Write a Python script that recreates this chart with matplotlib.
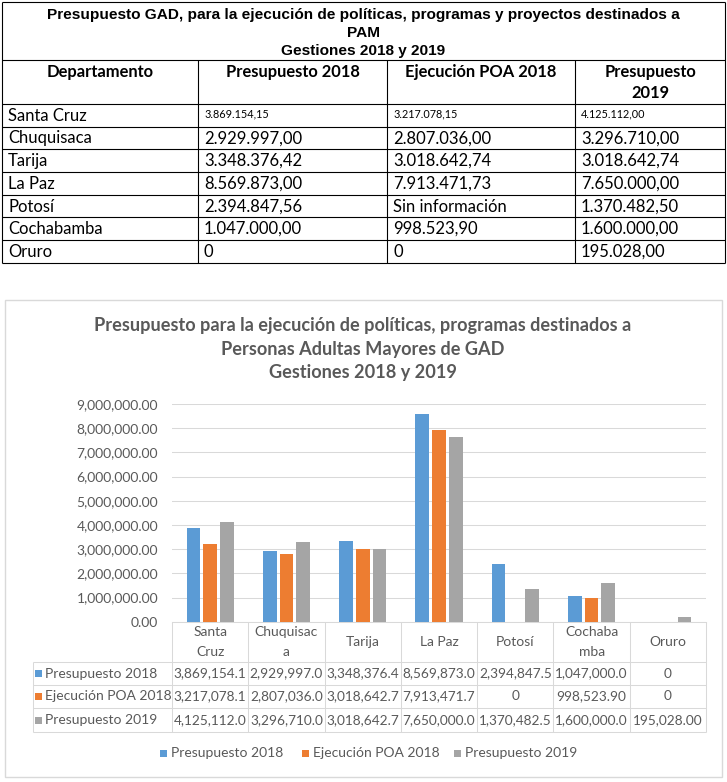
import numpy as np
import matplotlib
matplotlib.use("Agg")
import matplotlib.pyplot as plt
from matplotlib.lines import Line2D
from matplotlib.patches import Rectangle
import matplotlib.transforms as mtransforms
from matplotlib.ticker import FuncFormatter

# ---------------- data ----------------
departamentos = ["Santa Cruz", "Chuquisaca", "Tarija", "La Paz", "Potosí", "Cochabamba", "Oruro"]
cat_labels = ["Santa\nCruz", "Chuquisac\na", "Tarija", "La Paz", "Potosí", "Cochaba\nmba", "Oruro"]
presupuesto_2018 = [3869154.15, 2929997.00, 3348376.42, 8569873.00, 2394847.56, 1047000.00, 0]
ejecucion_poa_2018 = [3217078.15, 2807036.00, 3018642.74, 7913471.73, None, 998523.90, 0]
presupuesto_2019 = [4125112.00, 3296710.00, 3018642.74, 7650000.00, 1370482.50, 1600000.00, 195028.00]
series_names = ["Presupuesto 2018", "Ejecución POA 2018", "Presupuesto 2019"]
table_title = ["Presupuesto GAD, para la ejecución de políticas, programas y proyectos destinados a",
               "PAM", "Gestiones 2018 y 2019"]
table_headers = ["Departamento", "Presupuesto 2018", "Ejecución POA 2018", "Presupuesto\n2019"]
chart_title = ["Presupuesto para la ejecución de políticas, programas destinados a",
               "Personas Adultas Mayores de GAD", "Gestiones 2018 y 2019"]
yticks = [0, 1000000, 2000000, 3000000, 4000000, 5000000, 6000000, 7000000, 8000000, 9000000]
no_info = "Sin información"

colors = ["#5b9bd5", "#ed7d31", "#a5a5a5"]
TXT = "#595959"
GRID = "#d9d9d9"
BODY = ["Lato", "DejaVu Sans"]
ARIAL = ["Liberation Sans", "DejaVu Sans"]

W, H = 727, 782
fig = plt.figure(figsize=(W / 100, H / 100), dpi=100)


def X(px):
    return px / W


def Y(py):
    return 1 - py / H


def line(x0, x1, y0, y1, color="black", lw=0.8, trans=None):
    fig.add_artist(Line2D([x0, x1], [y0, y1], transform=trans or fig.transFigure,
                          color=color, lw=lw, solid_capstyle="butt"))


def es_fmt(v):
    if v is None:
        return no_info
    if v == 0:
        return "0"
    return f"{v:,.2f}".replace(",", "X").replace(".", ",").replace("X", ".")


# ---------------- top table ----------------
cols = [2, 198, 387, 575, 725]
rows = [2, 60, 104, 127, 149, 172, 195, 217, 240, 263]
for r in rows:
    line(X(cols[0]), X(cols[-1]), Y(r), Y(r))
line(X(cols[0]), X(cols[0]), Y(rows[0]), Y(rows[-1]))
line(X(cols[-1]), X(cols[-1]), Y(rows[0]), Y(rows[-1]))
for c in cols[1:-1]:
    line(X(c), X(c), Y(rows[1]), Y(rows[-1]))

for k, t in enumerate(table_title):
    fig.text(X(363.5), Y([15, 33, 51.5][k]), t, ha="center", va="center",
             family=ARIAL, fontweight="bold", fontsize=11.1, color="black")

for j, h in enumerate(table_headers):
    cx = (cols[j] + cols[j + 1]) / 2
    for k, part in enumerate(h.split("\n")):
        fig.text(X(cx), Y(72 + 21 * k), part, ha="center", va="center",
                 family=BODY, fontweight="bold", fontsize=11.9, color="black")

for i, dep in enumerate(departamentos):
    cy = (rows[2 + i] + rows[3 + i]) / 2
    vals = [dep, es_fmt(presupuesto_2018[i]), es_fmt(ejecucion_poa_2018[i]),
            es_fmt(presupuesto_2019[i])]
    for j, v in enumerate(vals):
        small = (i == 0 and j > 0)
        fig.text(X(cols[j] + 6), Y(cy + (-2 if small else 0.5)), v, ha="left", va="center",
                 family=["Liberation Sans Narrow"] + BODY if small else BODY,
                 fontsize=7.8 if small else 12, color="black")

# ---------------- chart ----------------
fig.add_artist(Rectangle((X(5), Y(777)), X(722) - X(5), (777 - 300) / H,
                         transform=fig.transFigure, facecolor="none",
                         edgecolor=GRID, lw=1.0, zorder=-1))

for k, t in enumerate(chart_title):
    fig.text(X(363), Y([325, 349.5, 372.5][k]), t, ha="center", va="center",
             family=BODY, fontweight="bold", fontsize=13.1, color=TXT)

y0_px, y9_px = 621.7, 403.9
ax = fig.add_axes([X(172), Y(y0_px), X(706) - X(172), (y0_px - y9_px) / H])
ax.patch.set_alpha(0)
xs = np.arange(len(departamentos))
chart_series = [presupuesto_2018,
                [0 if v is None else v for v in ejecucion_poa_2018],
                presupuesto_2019]
bw = 0.18
offs = [-0.219, 0.0, 0.219]
for s, vals in enumerate(chart_series):
    ax.bar(xs + offs[s], vals, width=bw, color=colors[s], zorder=3)

ax.set_xlim(-0.5, len(departamentos) - 0.5)
ax.set_ylim(0, 9000000)
ax.set_yticks(yticks)
ax.yaxis.set_major_formatter(FuncFormatter(lambda v, p: f"{v:,.2f}"))
ax.grid(axis="y", color=GRID, lw=0.75, zorder=0)
ax.set_xticks([])
for sp in ["top", "right", "left"]:
    ax.spines[sp].set_visible(False)
ax.spines["bottom"].set_color(GRID)
ax.spines["bottom"].set_linewidth(0.75)
ax.tick_params(axis="y", length=0, pad=10, labelsize=10, labelcolor=TXT)
for lab in ax.get_yticklabels():
    lab.set_family(BODY)

# ---------------- data table under the chart ----------------
trans = mtransforms.blended_transform_factory(ax.transData, fig.transFigure)
t_rows = [621.7, 662, 685, 708, 732]
for b in np.arange(len(departamentos) + 1) - 0.5:
    line(b, b, Y(t_rows[0]), Y(t_rows[-1]), color=GRID, lw=0.75, trans=trans)
line(X(33), X(33), Y(t_rows[1]), Y(t_rows[-1]), color=GRID, lw=0.75)
for r in t_rows[1:]:
    line(X(33), X(706), Y(r), Y(r), color=GRID, lw=0.75)

for i, lab in enumerate(cat_labels):
    parts = lab.split("\n")
    n = len(parts)
    for k, part in enumerate(parts):
        yy = 642 + (k - (n - 1) / 2) * 19
        fig.text(xs[i], Y(yy), part, transform=trans, ha="center", va="center",
                 family=BODY, fontsize=10, color=TXT)


def tbl_fmt(v):
    if v == 0:
        return "0"
    return f"{v:,.2f}"[:11]


for s, vals in enumerate(chart_series):
    cy = (t_rows[1 + s] + t_rows[2 + s]) / 2
    fig.add_artist(Rectangle((X(35), Y(cy + 3.5)), 7 / W, 7 / H, transform=fig.transFigure,
                             facecolor=colors[s], edgecolor="none"))
    fig.text(X(45), Y(cy), series_names[s], ha="left", va="center",
             family=BODY, fontsize=10, color=TXT)
    for i, v in enumerate(vals):
        fig.text(xs[i], Y(cy), tbl_fmt(v), transform=trans, ha="center", va="center",
                 family=BODY, fontsize=9.8, color=TXT)

# ---------------- legend ----------------
leg_marker_x = [160, 302, 454]
for s in range(3):
    fig.add_artist(Rectangle((X(leg_marker_x[s]), Y(753 + 3.5)), 7 / W, 7 / H,
                             transform=fig.transFigure, facecolor=colors[s], edgecolor="none"))
    fig.text(X(leg_marker_x[s] + 11), Y(753), series_names[s], ha="left", va="center",
             family=BODY, fontsize=10, color=TXT)

fig.savefig("out.png", dpi=100)
